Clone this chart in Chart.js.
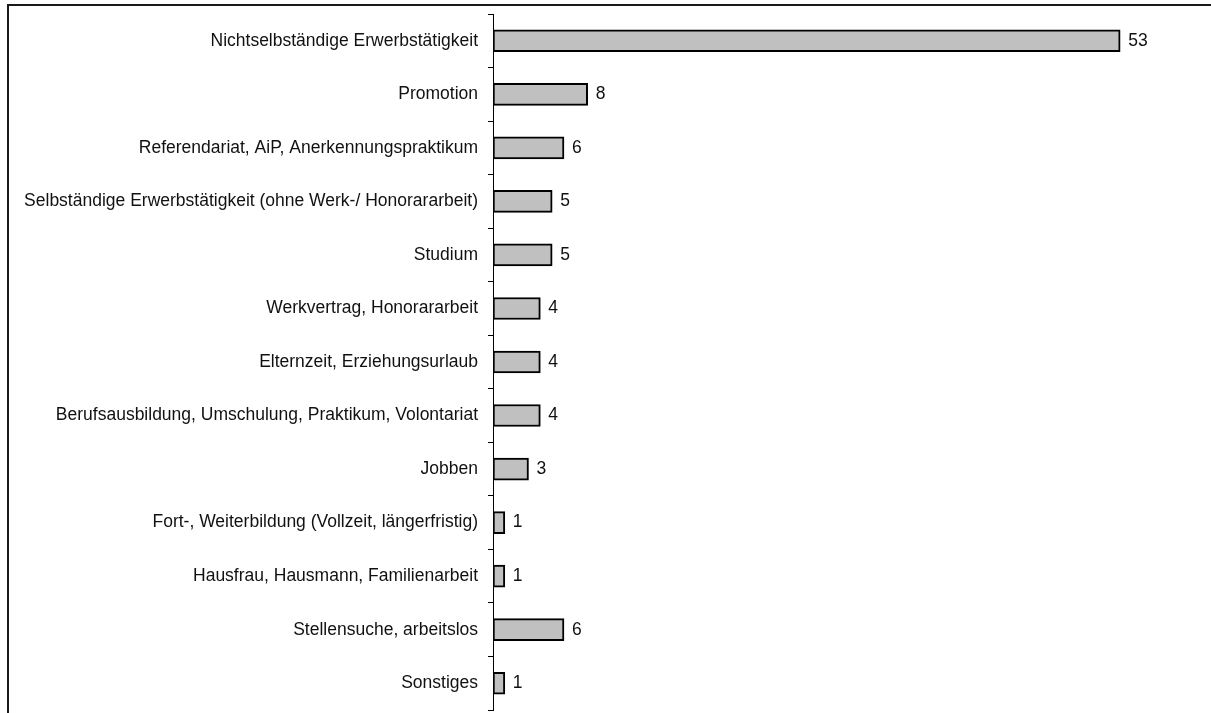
<!DOCTYPE html>
<html>
<head>
<meta charset="utf-8">
<script src="https://cdn.jsdelivr.net/npm/chart.js@4/dist/chart.umd.min.js"></script>
<style>
  html, body { margin: 0; padding: 0; background: #fff; }
  #wrap { width: 1211px; height: 713px; }
</style>
</head>
<body>
<div id="wrap"><canvas id="chart1"></canvas></div>
<script>
const categories = [
    'Nichtselbständige Erwerbstätigkeit',
    'Promotion',
    'Referendariat, AiP, Anerkennungspraktikum',
    'Selbständige Erwerbstätigkeit (ohne Werk-/ Honorararbeit)',
    'Studium',
    'Werkvertrag, Honorararbeit',
    'Elternzeit, Erziehungsurlaub',
    'Berufsausbildung, Umschulung, Praktikum, Volontariat',
    'Jobben',
    'Fort-, Weiterbildung (Vollzeit, längerfristig)',
    'Hausfrau, Hausmann, Familienarbeit',
    'Stellensuche, arbeitslos',
    'Sonstiges',
];
const values = [53, 8, 6, 5, 5, 4, 4, 4, 3, 1, 1, 6, 1];

const FONT = '"Liberation Sans", Arial, sans-serif';

// frame: only top and left edges are visible in the picture
const framePlugin = {
    id: 'frame',
    beforeDraw(chart) {
        const ctx = chart.ctx;
        ctx.save();
        ctx.strokeStyle = '#1a1a1a';
        ctx.lineWidth = 2;
        ctx.beginPath();
        ctx.moveTo(8, 713);
        ctx.lineTo(8, 5);
        ctx.lineTo(1211, 5);
        ctx.stroke();
        ctx.restore();
    }
};

// value labels right of each bar
const valueLabels = {
    id: 'valueLabels',
    afterDatasetsDraw(chart) {
        const ctx = chart.ctx;
        const meta = chart.getDatasetMeta(0);
        ctx.save();
        ctx.font = '17.5px ' + FONT;
        ctx.fillStyle = '#111';
        ctx.textBaseline = 'middle';
        meta.data.forEach((bar, i) => {
            ctx.fillText(String(values[i]), bar.x + 8, bar.y);
        });
        ctx.restore();
    }
};

const data = {
    labels: categories,
    datasets: [{
        data: values,
        backgroundColor: '#c0c0c0',
        borderColor: '#000',
        borderWidth: 2,
        borderSkipped: false,
        barThickness: 22,
    }]
};

const config = {
    type: 'bar',
    data: data,
    options: {
        indexAxis: 'y',
        responsive: true,
        maintainAspectRatio: false,
        animation: false,
        layout: { padding: { top: 14, bottom: 3, right: 8, left: 0 } },
        plugins: {
            legend: { display: false },
            tooltip: { enabled: false },
        },
        scales: {
            x: {
                display: false,
                min: 0,
                max: 60,
            },
            y: {
                afterFit(scale) {
                    scale.width = 493;
                    scale.paddingTop = 0;
                    scale.paddingBottom = 0;
                },
                grid: {
                    drawOnChartArea: false,
                    offset: true,
                    tickLength: 5,
                    color: '#000',
                },
                border: { color: '#000', width: 1 },
                ticks: {
                    color: '#111',
                    padding: 10,
                    font: { family: FONT, size: 17.5 },
                },
            },
        },
    },
    plugins: [framePlugin, valueLabels],
};

// eslint-disable-next-line
const chartOne = new Chart(document.getElementById('chart1'), config);
</script>
</body>
</html>
